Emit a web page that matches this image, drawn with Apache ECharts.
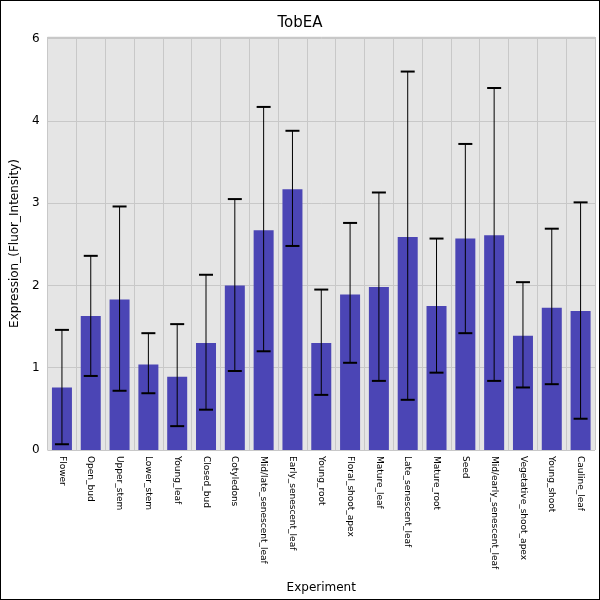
<!DOCTYPE html>
<html><head><meta charset="utf-8">
<script src="https://cdn.jsdelivr.net/npm/echarts@6/dist/echarts.min.js"></script>
<style>html,body{margin:0;padding:0}#c{width:598px;height:598px;border:1px solid #000}</style>
</head><body><div id="c"></div>
<script>
var tissues = ["Flower","Open_bud","Upper_stem","Lower_stem","Young_leaf","Closed_bud","Cotyledons","Mid/late_senescent_leaf","Early_senescent_leaf","Young_root","Floral_shoot_apex","Mature_leaf","Late_senescent_leaf","Mature_root","Seed","Mid/early_senescent_leaf","Vegetative_shoot_apex","Young_shoot","Cauline_leaf"];
var means = [0.76,1.63,1.83,1.04,0.89,1.30,2.00,2.67,3.17,1.30,1.89,1.98,2.59,1.75,2.57,2.61,1.39,1.73,1.69];
var lows  = [0.07,0.90,0.72,0.69,0.29,0.49,0.96,1.20,2.48,0.67,1.06,0.84,0.61,0.94,1.42,0.84,0.76,0.80,0.38];
var highs = [1.46,2.36,2.96,1.42,1.53,2.13,3.05,4.17,3.88,1.95,2.76,3.13,4.60,2.57,3.72,4.40,2.04,2.69,3.01];
var yLabels = {0:"0",1:"1",2:"2",3:"3",4:"4",5:"6"};

var chart = echarts.init(document.getElementById('c'));
chart.setOption({
  animation:false,
  title:{text:"TobEA",left:"center",top:10,textStyle:{fontFamily:"DejaVu Sans",fontSize:15,fontWeight:"normal",color:"#000"}},
  grid:{left:41,right:4,top:36,bottom:146,backgroundColor:"#e5e5e5",show:true,borderColor:"#e5e5e5"},
  xAxis:{type:"category",data:tissues,name:"Experiment",nameLocation:"middle",nameGap:132,
    nameTextStyle:{fontFamily:"DejaVu Sans",fontSize:12,color:"#000"},
    axisTick:{show:false},axisLine:{show:false},
    splitLine:{show:true,lineStyle:{color:"#c8c8c8"}},
    axisLabel:{rotate:-90,interval:0,fontFamily:"DejaVu Sans",fontSize:9,color:"#000",margin:6}},
  yAxis:{type:"value",min:0,max:5.02,interval:1,
    name:"Expression_(Fluor_Intensity)",nameLocation:"middle",nameGap:26,
    nameTextStyle:{fontFamily:"DejaVu Sans",fontSize:12,color:"#000"},
    axisLine:{show:false},axisTick:{show:false},
    splitLine:{lineStyle:{color:"#c8c8c8"}},
    axisLabel:{fontFamily:"DejaVu Sans",fontSize:12,color:"#000",margin:8,showMaxLabel:false,
      formatter:function(v){var r=Math.round(v);return Math.abs(v-r)<0.01&&yLabels[r]!==undefined?yLabels[r]:"";}}
  },
  series:[
    {type:"bar",data:means,barWidth:20,itemStyle:{color:"#4b45b5"}},
    {type:"custom",data:tissues.map(function(t,i){return [i,lows[i],highs[i]];}),z:10,
      renderItem:function(params,api){
        var lo=api.coord([api.value(0),api.value(1)]),hi=api.coord([api.value(0),api.value(2)]);
        var x=lo[0],w=7,st={stroke:"#000",lineWidth:1},cap={stroke:"#000",lineWidth:2};
        return {type:"group",children:[
          {type:"line",shape:{x1:x,y1:lo[1],x2:x,y2:hi[1]},style:st},
          {type:"line",shape:{x1:x-w,y1:lo[1],x2:x+w,y2:lo[1]},style:cap},
          {type:"line",shape:{x1:x-w,y1:hi[1],x2:x+w,y2:hi[1]},style:cap}]};
      }}
  ]
});
</script></body></html>
